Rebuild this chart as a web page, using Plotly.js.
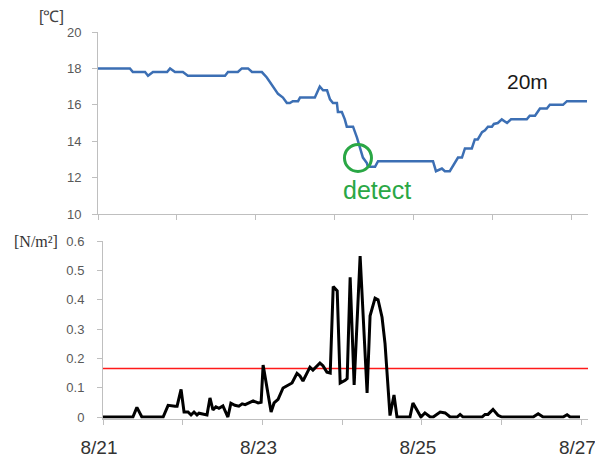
<!DOCTYPE html>
<html>
<head>
<meta charset="utf-8">
<script src="https://cdn.plot.ly/plotly-3.0.1.min.js"></script>
<style>html,body{margin:0;padding:0;background:#fff;}#chart{width:595px;height:457px;}</style>
</head>
<body>
<div id="chart"></div>
<script>
// ---- Data (hours since 8/21 00:00) ----
const tempHours = [0,9.7,10.6,14.3,15.2,16.7,21.0,21.9,23.4,25.8,27.3,38.6,39.5,42.5,43.7,45.6,46.8,49.8,51.3,53.2,54.7,56.2,57.4,58.3,59.2,60.8,61.4,65.9,67.4,68.4,69.6,70.5,71.4,72.6,72.9,74.1,75.0,75.6,77.5,78.7,79.6,80.5,81.7,82.0,84.2,85.1,101.8,102.7,104.5,105.4,106.9,108.5,109.4,110.6,111.5,113.6,114.5,115.4,116.7,117.6,118.5,119.7,120.3,121.5,122.7,124.3,125.5,130.3,131.2,132.8,134.3,136.4,137.3,141.3,142.5,148.6];
const tempValues = [18.0,18.0,17.8,17.8,17.6,17.8,17.8,18.0,17.8,17.8,17.6,17.6,17.8,17.8,18.0,18.0,17.8,17.8,17.5,17.0,16.6,16.4,16.1,16.1,16.2,16.2,16.4,16.4,17.0,16.8,16.8,16.3,16.1,16.1,15.6,15.6,15.2,14.8,14.8,14.2,13.7,13.1,12.8,12.6,12.6,12.9,12.9,12.35,12.5,12.35,12.35,12.8,13.1,13.1,13.6,13.6,14.1,14.1,14.5,14.6,14.8,14.8,14.95,15.0,15.2,15.0,15.2,15.2,15.4,15.4,15.8,15.8,16.0,16.0,16.2,16.2];

const stressHours = [0,9.0,10.2,11.7,18.1,19.6,21.7,22.3,23.5,24.4,25.6,26.5,27.4,28.3,28.9,29.8,31.3,32.2,33.1,34.0,34.9,36.1,36.7,37.6,38.5,39.7,40.9,41.9,42.8,43.7,45.2,46.7,47.6,48.2,49.4,50.6,51.5,52.7,54.2,55.7,56.9,58.4,59.3,60.2,61.4,62.3,63.2,64.1,65.3,66.2,67.4,68.4,69.3,70.5,71.4,72.9,73.5,74.4,75.6,77.4,79.5,80.4,81.9,82.8,84.0,84.9,85.5,86.4,87.6,88.5,92.4,93.3,94.5,95.7,96.9,98.5,99.4,101.5,103.0,104.5,106.6,107.5,108.4,114.1,115.0,115.9,117.4,118.9,120.1,129.5,131.0,132.5,138.5,139.7,140.6,143.6];
const stressValues = [0,0,0.033,0,0,0.04,0.037,0.037,0.094,0.017,0.017,0.007,0.017,0.007,0.013,0.01,0.007,0.065,0.024,0.035,0.03,0.038,0.02,0,0.047,0.04,0.037,0.045,0.042,0.047,0.055,0.048,0.05,0.177,0.10,0.017,0.048,0.06,0.099,0.109,0.116,0.149,0.14,0.123,0.15,0.17,0.16,0.17,0.184,0.175,0.153,0.15,0.445,0.43,0.116,0.125,0.131,0.476,0.109,0.549,0.082,0.345,0.405,0.4,0.34,0.25,0.16,0.005,0.075,0,0,0.048,0.024,0,0.014,0,0,0.017,0.014,0,0,0.009,0,0,0.009,0.009,0.026,0.006,0,0,0.011,0,0,0.008,0,0];

const thresholdHours = [0, 146];
const thresholdValues = [0.165, 0.165];

const dayTicks = [0,24,48,72,96,120,144];
const dayLabels = ['8/21','','8/23','','8/25','','8/27'];
const tempTicks = [10,12,14,16,18,20];
const stressTicks = [0,0.1,0.2,0.3,0.4,0.5,0.6];

// ---- Layout ----
const W = 595, H = 457;
const axisGray = '#bfbfbf';
const tickFont = {family:'Liberation Sans, Arial, sans-serif', size:13, color:'#595959'};

const traces = [
  {x: tempHours, y: tempValues, xaxis:'x', yaxis:'y', type:'scatter', mode:'lines',
   line:{color:'#3c6fb4', width:2.5}, hoverinfo:'skip'},
  {x: thresholdHours, y: thresholdValues, xaxis:'x2', yaxis:'y2', type:'scatter', mode:'lines',
   line:{color:'#ff1a1a', width:1.5}, hoverinfo:'skip'},
  {x: stressHours, y: stressValues, xaxis:'x2', yaxis:'y2', type:'scatter', mode:'lines',
   line:{color:'#000000', width:3}, hoverinfo:'skip'}
];

const layout = {
  width: W, height: H,
  margin: {l:0, r:0, t:0, b:0},
  paper_bgcolor:'#ffffff', plot_bgcolor:'#ffffff',
  showlegend:false,
  xaxis: {domain:[98/W, 588/W], range:[0,148.9], anchor:'y',
    tickmode:'array', tickvals:dayTicks, showticklabels:false,
    ticks:'outside', ticklen:5, tickcolor:axisGray, tickwidth:1,
    showline:true, linecolor:axisGray, linewidth:1, showgrid:false, zeroline:false, fixedrange:true},
  yaxis: {domain:[1-214/H, 1-32/H], range:[10,20], anchor:'x',
    tickmode:'array', tickvals:tempTicks, tickfont:tickFont,
    ticks:'outside', ticklen:5, tickcolor:axisGray, ticklabelstandoff:8,
    showline:true, linecolor:axisGray, linewidth:1, showgrid:false, zeroline:false, fixedrange:true},
  xaxis2: {domain:[103/W, 588/W], range:[0,146], anchor:'y2',
    tickmode:'array', tickvals:dayTicks, ticktext:dayLabels,
    tickfont:{family:'Liberation Sans Narrow, Arial Narrow, Liberation Sans, sans-serif', size:19, color:'#333333'},
    ticks:'outside', ticklen:5, tickcolor:axisGray, ticklabelstandoff:7, ticklabelshift:-4,
    ticklabeloverflow:'allow',
    showline:true, linecolor:axisGray, linewidth:1, showgrid:false, zeroline:false, fixedrange:true},
  yaxis2: {domain:[1-418.5/H, 1-241/H], range:[-0.005,0.6], anchor:'x2',
    tickmode:'array', tickvals:stressTicks, tickfont:tickFont,
    ticks:'outside', ticklen:5, tickcolor:axisGray, ticklabelstandoff:10,
    showline:true, linecolor:axisGray, linewidth:1, showgrid:false, zeroline:false, fixedrange:true},
  annotations: [
    {text:'[℃]', xref:'paper', yref:'paper', x:51/W, y:1-16/H, xanchor:'center', yanchor:'middle', showarrow:false,
     font:{family:'Liberation Sans, Arial, sans-serif', size:16, color:'#444444'}},
    {text:'20m', xref:'paper', yref:'paper', x:527/W, y:1-82/H, xanchor:'center', yanchor:'middle', showarrow:false,
     font:{family:'Liberation Sans, Arial, sans-serif', size:21, color:'#1a1a1a'}},
    {text:'detect', xref:'paper', yref:'paper', x:377/W, y:1-190/H, xanchor:'center', yanchor:'middle', showarrow:false,
     font:{family:'Liberation Sans, Arial, sans-serif', size:25, color:'#2aa745'}},
    {text:'[N/m²]', xref:'paper', yref:'paper', x:36/W, y:1-241/H, xanchor:'center', yanchor:'middle', showarrow:false,
     font:{family:'Liberation Serif, Times New Roman, serif', size:16, color:'#333333'}}
  ],
  shapes: [
    {type:'circle', xref:'x', yref:'y', xsizemode:'pixel', ysizemode:'pixel',
     xanchor:79.0, yanchor:13.08, x0:-13.5, x1:13.5, y0:-13.5, y1:13.5,
     line:{color:'#2aa745', width:3}, fillcolor:'rgba(0,0,0,0)'}
  ]
};

Plotly.newPlot('chart', traces, layout, {staticPlot:true, displayModeBar:false});
</script>
</body>
</html>
